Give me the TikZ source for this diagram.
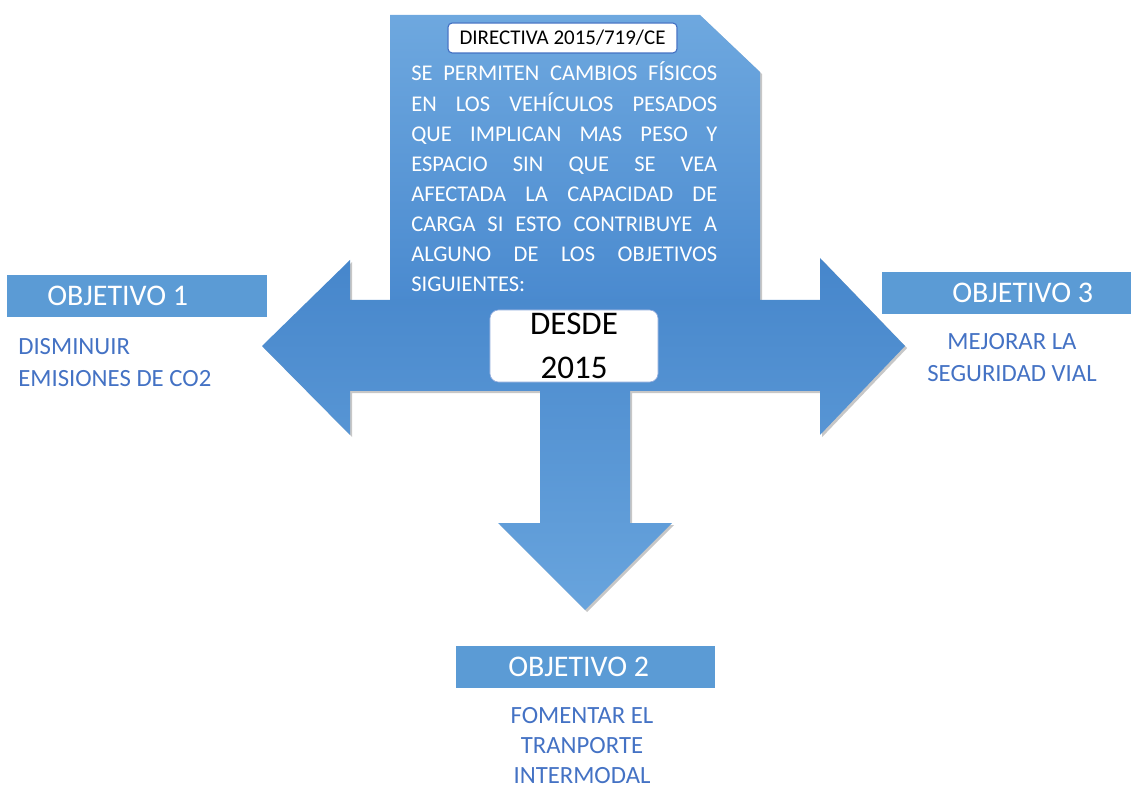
\documentclass[tikz,border=0pt]{standalone}
\usepackage{fontspec}
\setmainfont{Carlito}
\usetikzlibrary{shadows}
\newlength\px
\setlength\px{0.025cm}
\definecolor{arrTop}{HTML}{4686CB}
\definecolor{arrBot}{HTML}{68A4DD}
\definecolor{docTop}{HTML}{6EA8DF}
\definecolor{docBot}{HTML}{4A8ACF}
\definecolor{objFill}{HTML}{5B9BD5}
\definecolor{objText}{HTML}{4472C4}
\definecolor{boxLine}{HTML}{4472C4}
\newcommand\ctrlines[1]{\vtop{\halign{\hfil##\hfil\cr#1\crcr}}}
\newcommand\leftlines[1]{\vtop{\halign{##\hfil\cr#1\crcr}}}
\begin{document}
\begin{tikzpicture}[x=0.025cm, y=-0.025cm,
  shadowed/.style={drop shadow={shadow xshift=1.5pt, shadow yshift=-1.5pt, opacity=.22, fill=black}},
  objbox/.style={fill=objFill, inner sep=0pt, minimum height=1.05cm, text=white, anchor=north west,
    font=\fontsize{21.3}{24}\selectfont},
  goal/.style={text=objText, inner sep=0pt, font=\fontsize{17.6}{22.6}\selectfont},
  whitebox/.style={fill=white, draw=boxLine, inner sep=0pt}
]
\useasboundingbox (0,0) rectangle (1131,793);

% document shape
\path[shadowed, top color=docTop, bottom color=docBot]
  (390,15) -- (700,15) -- (760,72) -- (760,300) -- (390,300) -- cycle;

% three-way arrow
\path[shadowed, top color=arrTop, bottom color=arrBot]
  (262,346) -- (350,260) -- (350,300) -- (820,300) -- (820,258) -- (905,346)
  -- (820,435) -- (820,391) -- (630,391) -- (630,523) -- (672,523) -- (585,610)
  -- (498,523) -- (540,523) -- (540,391) -- (350,391) -- (350,435) -- cycle;

% directive label
\node[whitebox, line width=0.8pt, rounded corners=3pt, minimum width=5.725cm, minimum height=0.75cm,
  font=\fontsize{14.9}{17}\selectfont] (dir) at (562.5,38) {DIRECTIVA 2015/719/CE};

% body text
\node[anchor=base west, inner sep=0pt, text=white, font=\fontsize{16}{21.34}\selectfont] (body) at (411,81)
{\parbox[t]{306\px}{%
\makebox[\linewidth][s]{SE PERMITEN CAMBIOS FÍSICOS}\\
\makebox[\linewidth][s]{EN LOS VEHÍCULOS PESADOS}\\
\makebox[\linewidth][s]{QUE IMPLICAN MAS PESO Y}\\
\makebox[\linewidth][s]{ESPACIO SIN QUE SE VEA}\\
\makebox[\linewidth][s]{AFECTADA LA CAPACIDAD DE}\\
\makebox[\linewidth][s]{CARGA SI ESTO CONTRIBUYE A}\\
\makebox[\linewidth][s]{ALGUNO DE LOS OBJETIVOS}\\
SIGUIENTES:}};

% DESDE 2015
\node[whitebox, draw=boxLine!60, line width=0.5pt, rounded corners=6pt, minimum width=4.2cm, minimum height=1.8cm,
  align=center, font=\fontsize{23.5}{31.3}\selectfont] (desde) at (574,346) {DESDE\\2015};

% objective boxes
\node[objbox] (o1) at (7,275) {\makebox[260\px][l]{\hspace{40\px}OBJETIVO 1}};
\node[objbox] (o3) at (882,272) {\makebox[249\px][l]{\hspace{70\px}OBJETIVO 3}};
\node[objbox] (o2) at (456,646) {\makebox[259\px][l]{\hspace{52\px}OBJETIVO 2}};

% objective texts
\node[goal, anchor=base west] (g1) at (18,355) {\leftlines{DISMINUIR\cr EMISIONES DE CO2}};
\node[goal, anchor=base] (g3) at (1012,350) {\ctrlines{MEJORAR LA\cr SEGURIDAD VIAL}};
\node[goal, anchor=base, font=\fontsize{17.6}{21.4}\selectfont] (g2) at (582,723) {\ctrlines{FOMENTAR EL\cr TRANPORTE\cr INTERMODAL}};
\end{tikzpicture}
\end{document}
